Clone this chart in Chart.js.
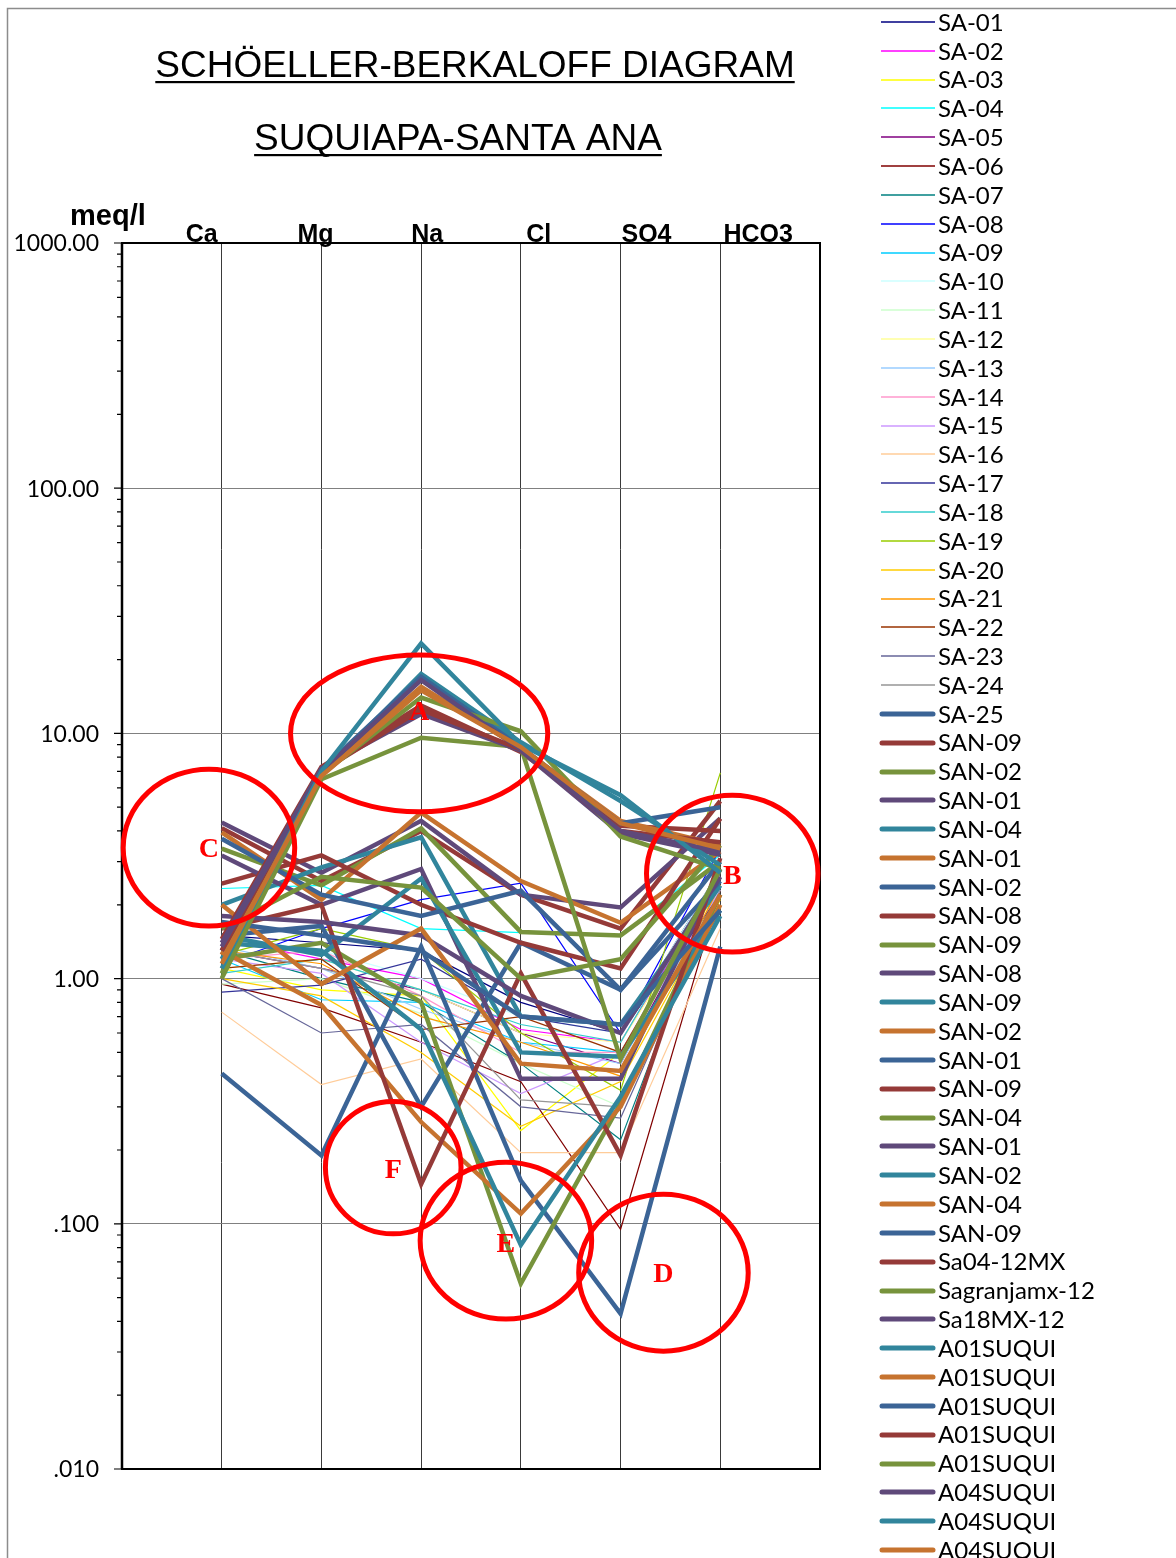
<!DOCTYPE html>
<html><head><meta charset="utf-8">
<script src="https://cdn.jsdelivr.net/npm/chart.js@4.4.1/dist/chart.umd.min.js"></script>
<style>html,body{margin:0;padding:0;background:#fff;overflow:hidden}canvas{display:block}</style>
</head><body>
<canvas id="c" width="1176" height="1558"></canvas>
<script>
// ---------------- DATA ----------------
const categories = ['Ca','Mg','Na','Cl','SO4','HCO3'];
const yTickValues = [0.01, 0.1, 1, 10, 100, 1000];
const yTickLabels = ['.010', '.100', '1.00', '10.00', '100.00', '1000.00'];
const titleLines = ['SCHÖELLER-BERKALOFF DIAGRAM', 'SUQUIAPA-SANTA ANA'];
const unitLabel = 'meq/l';

const seriesNames = [
  'SA-01','SA-02','SA-03','SA-04','SA-05','SA-06','SA-07','SA-08','SA-09','SA-10',
  'SA-11','SA-12','SA-13','SA-14','SA-15','SA-16','SA-17','SA-18','SA-19','SA-20',
  'SA-21','SA-22','SA-23','SA-24','SA-25',
  'SAN-09','SAN-02','SAN-01','SAN-04','SAN-01','SAN-02','SAN-08','SAN-09','SAN-08','SAN-09',
  'SAN-02','SAN-01','SAN-09','SAN-04','SAN-01','SAN-02','SAN-04','SAN-09',
  'Sa04-12MX','Sagranjamx-12','Sa18MX-12',
  'A01SUQUI','A01SUQUI','A01SUQUI','A01SUQUI','A01SUQUI',
  'A04SUQUI','A04SUQUI','A04SUQUI'
];

// values per series: [Ca, Mg, Na, Cl, SO4, HCO3] in meq/l
const seriesValues = [
  [1.5, 1.4, 1.3, 0.8, 0.6, 2.8],
  [1.45, 1.2, 1.0, 0.62, 0.55, 2.6],
  [1.1, 0.9, 0.85, 0.24, 0.5, 2.4],
  [2.33, 2.4, 1.6, 1.54, 1.5, 3.2],
  [1.3, 1.1, 0.9, 0.6, 0.45, 2.5],
  [0.95, 0.76, 0.55, 0.38, 0.095, 2.3],
  [1.3, 1.0, 0.8, 0.45, 0.22, 2.6],
  [1.15, 1.6, 2.1, 2.45, 0.6, 3.4],
  [1.2, 0.82, 0.8, 0.55, 0.5, 2.5],
  [1.4, 1.3, 1.0, 0.7, 0.6, 2.8],
  [0.95, 1.0, 0.72, 0.45, 0.3, 2.0],
  [1.1, 1.2, 0.9, 0.6, 0.55, 2.4],
  [1.35, 1.1, 0.75, 0.55, 0.45, 2.3],
  [1.2, 1.3, 0.85, 0.5, 0.5, 2.6],
  [1.2, 1.05, 0.55, 0.34, 0.5, 2.3],
  [0.73, 0.37, 0.47, 0.195, 0.195, 1.6],
  [0.88, 0.94, 1.2, 0.7, 0.6, 2.2],
  [1.05, 1.2, 0.9, 0.65, 0.55, 2.7],
  [1.25, 1.6, 1.3, 0.6, 0.35, 6.9],
  [1.0, 0.85, 0.5, 0.25, 0.38, 2.1],
  [1.3, 1.15, 0.7, 0.55, 0.4, 2.4],
  [1.1, 1.2, 0.62, 0.7, 0.5, 2.5],
  [1.0, 0.6, 0.65, 0.3, 0.27, 2.2],
  [1.3, 1.1, 0.85, 0.32, 0.3, 2.3],
  [0.41, 0.19, 1.35, 0.15, 0.043, 1.35],
  [4.1, 2.5, 4.0, 2.2, 1.6, 5.3],
  [3.39, 2.4, 4.1, 1.55, 1.5, 3.0],
  [4.33, 2.7, 4.4, 2.2, 1.95, 4.5],
  [2.0, 2.84, 3.77, 0.7, 0.65, 2.4],
  [3.95, 2.1, 4.75, 2.5, 1.69, 3.3],
  [1.5, 1.64, 0.3, 1.4, 0.9, 2.5],
  [2.44, 3.18, 2.0, 1.4, 1.1, 4.5],
  [1.2, 1.4, 0.8, 0.057, 0.31, 2.2],
  [3.18, 2.0, 2.8, 0.39, 0.39, 2.8],
  [1.5, 1.25, 2.56, 0.5, 0.48, 1.9],
  [1.3, 0.78, 0.26, 0.11, 0.30, 2.0],
  [3.72, 2.2, 1.8, 2.28, 0.9, 3.0],
  [1.6, 2.0, 0.145, 1.05, 0.19, 3.1],
  [1.6, 2.6, 2.35, 1.0, 1.2, 3.5],
  [1.8, 1.7, 1.5, 0.85, 0.6, 2.6],
  [1.4, 1.3, 0.62, 0.082, 0.33, 1.8],
  [2.0, 0.95, 1.6, 0.45, 0.42, 2.2],
  [1.7, 1.5, 1.3, 0.7, 0.65, 1.9],
  [1.45, 7.3, 13.0, 8.4, 4.2, 4.0],
  [1.0, 6.5, 9.6, 8.8, 0.47, 2.8],
  [1.4, 7.2, 12.0, 8.5, 3.9, 3.2],
  [1.2, 6.8, 17.5, 9.2, 5.3, 2.9],
  [1.25, 6.9, 15.5, 8.7, 4.4, 3.5],
  [1.3, 7.1, 17.0, 8.8, 4.3, 5.0],
  [1.3, 7.0, 12.5, 8.6, 4.0, 3.6],
  [1.05, 6.8, 14.0, 10.2, 3.8, 2.8],
  [1.35, 7.0, 16.5, 8.6, 4.0, 3.3],
  [1.1, 7.0, 23.3, 9.0, 5.6, 2.7],
  [1.15, 6.7, 15.0, 8.8, 4.3, 3.4]
];

// ---------------- STYLE ----------------
const thinPalette = ['#000080','#FF00FF','#FFFF00','#00FFFF','#800080','#800000','#008080','#0000FF',
  '#00CCFF','#CCFFFF','#CCFFCC','#FFFF99','#99CCFF','#FF99CC','#CC99FF','#FFCC99','#333399','#33CCCC',
  '#99CC00','#FFCC00','#FF9900','#993300','#666699','#969696'];
const thickPalette = ['#3B6496','#953A38','#77933C','#5F497A','#31859C','#C6732F'];
const THIN_COUNT = 24;

const datasets = seriesValues.map((vals, i) => {
  const thick = i >= THIN_COUNT;
  const color = thick ? thickPalette[(i - THIN_COUNT) % 6] : thinPalette[i];
  return {
    label: seriesNames[i],
    data: vals.map((v, k) => ({x: k + 1, y: v})),
    borderColor: color,
    backgroundColor: color,
    borderWidth: thick ? 4.5 : 1.2,
    pointRadius: 0,
    pointHoverRadius: 0,
    fill: false,
    tension: 0,
    order: seriesValues.length - i,
    _thick: thick
  };
});

// annotations (data coordinates: x in category units, y in meq/l, ry in decades)
const annotations = [
  {t:'A', x:2.98, y:10,     rx:1.29, ry:0.32, ty:12.2},
  {t:'B', x:6.12, y:2.68,   rx:0.86, ry:0.32, ty:2.62},
  {t:'C', x:0.872,y:3.42,   rx:0.86, ry:0.32, ty:3.38},
  {t:'D', x:5.43, y:0.0632, rx:0.85, ry:0.32, ty:0.0625},
  {t:'E', x:3.85, y:0.0854, rx:0.86, ry:0.32, ty:0.083},
  {t:'F', x:2.72, y:0.1695, rx:0.68, ry:0.27, ty:0.166}
];
const catLabelPos = [0.8, 1.94, 3.06, 4.18, 5.26, 6.38];

const decor = {
  id: 'decor',
  beforeDraw(chart) {
    const c = chart.ctx;
    c.save();
    c.fillStyle = '#fff';
    c.fillRect(0, 0, chart.width, chart.height);
    c.strokeStyle = '#8c8c8c';
    c.lineWidth = 1.5;
    c.beginPath();
    c.moveTo(7.5, chart.height);
    c.lineTo(7.5, 8.5);
    c.lineTo(chart.width, 8.5);
    c.stroke();
    c.restore();
  },
  afterDatasetsDraw(chart) {
    const c = chart.ctx;
    const xs = chart.scales.x, ys = chart.scales.y;
    const a = chart.chartArea;
    c.save();
    // frame
    c.strokeStyle = '#000';
    c.lineWidth = 2;
    c.strokeRect(a.left, a.top, a.right - a.left, a.bottom - a.top);
    c.lineWidth = 2.5;
    c.beginPath(); c.moveTo(a.left, a.top); c.lineTo(a.left, a.bottom); c.stroke();
    // y ticks (major + minor) outside left axis
    c.lineWidth = 1.2;
    c.beginPath();
    for (let d = -2; d <= 3; d++) {
      const base = Math.pow(10, d);
      const py = ys.getPixelForValue(base);
      c.moveTo(a.left - 8, py); c.lineTo(a.left, py);
      if (d < 3) {
        for (let m = 2; m <= 9; m++) {
          const p = ys.getPixelForValue(base * m);
          c.moveTo(a.left - 5, p); c.lineTo(a.left, p);
        }
      }
    }
    c.stroke();
    // y tick labels
    c.fillStyle = '#000';
    c.font = '23px Lato, "Open Sans", sans-serif';
    c.textAlign = 'right';
    c.textBaseline = 'middle';
    yTickValues.forEach((v, i) => {
      c.fillText(yTickLabels[i], 99, ys.getPixelForValue(v) + 1);
    });
    // unit label
    c.textAlign = 'left';
    c.textBaseline = 'alphabetic';
    c.font = 'bold 29px "Liberation Sans", Arial, sans-serif';
    c.fillText(unitLabel, 70, 225);
    // category labels
    c.font = 'bold 25px "Liberation Sans", Arial, sans-serif';
    c.textAlign = 'center';
    categories.forEach((t, i) => {
      c.fillText(t, xs.getPixelForValue(catLabelPos[i]), a.top - 1);
    });
    // titles
    c.font = '37px "Liberation Sans", Arial, sans-serif';
    const tl = [{t: titleLines[0], cx: 475, by: 77, uy: 82}, {t: titleLines[1], cx: 458, by: 150, uy: 155}];
    tl.forEach(o => {
      c.fillText(o.t, o.cx, o.by, 646);
      const w = Math.min(c.measureText(o.t).width, 646);
      c.fillRect(o.cx - w / 2, o.uy - 1, w, 2.2);
    });
    // annotations
    c.strokeStyle = '#FF0000';
    c.fillStyle = '#FF0000';
    c.lineWidth = 5;
    c.font = 'bold 28px "Liberation Serif", "Times New Roman", serif';
    c.textAlign = 'center';
    c.textBaseline = 'middle';
    annotations.forEach(an => {
      const px = xs.getPixelForValue(an.x);
      const py = ys.getPixelForValue(an.y);
      const rx = xs.getPixelForValue(an.x + an.rx) - px;
      const ry = py - ys.getPixelForValue(an.y * Math.pow(10, an.ry));
      c.beginPath();
      c.ellipse(px, py, rx, ry, 0, 0, Math.PI * 2);
      c.stroke();
      c.fillText(an.t, px, ys.getPixelForValue(an.ty) + 1);
    });
    // legend
    c.textAlign = 'left';
    c.textBaseline = 'middle';
    c.font = '24px Lato, "Open Sans", sans-serif';
    chart.data.datasets.forEach((ds, i) => {
      const y = 22 + i * 28.83;
      c.strokeStyle = ds.borderColor;
      c.lineWidth = ds._thick ? 5 : 1.6;
      c.lineCap = ds._thick ? 'round' : 'butt';
      c.beginPath();
      c.moveTo(ds._thick ? 882 : 881, Math.round(y));
      c.lineTo(ds._thick ? 933 : 935, Math.round(y));
      c.stroke();
      c.fillStyle = '#000';
      c.fillText(ds.label, 938, y + 1);
    });
    c.restore();
  }
};

new Chart(document.getElementById('c'), {
  type: 'line',
  data: { datasets },
  options: {
    responsive: false,
    animation: false,
    devicePixelRatio: 1,
    events: [],
    layout: { padding: { left: 122, top: 243, right: 356, bottom: 89 } },
    plugins: { legend: { display: false }, tooltip: { enabled: false }, title: { display: false } },
    scales: {
      x: {
        type: 'linear', min: 0, max: 7,
        afterBuildTicks: s => { s.ticks = [0,1,2,3,4,5,6,7].map(v => ({value: v})); },
        ticks: { display: false },
        border: { display: false },
        grid: {
          drawTicks: false,
          lineWidth: 1,
          color: ctx => (ctx.tick && (ctx.tick.value === 0 || ctx.tick.value === 7)) ? 'rgba(0,0,0,0)' : '#3a3a3a'
        }
      },
      y: {
        type: 'logarithmic', min: 0.01, max: 1000,
        afterBuildTicks: s => { s.ticks = yTickValues.map(v => ({value: v})); },
        ticks: { display: false },
        border: { display: false },
        grid: { drawTicks: false, lineWidth: 1, color: '#808080' }
      }
    }
  },
  plugins: [decor]
});
</script>
</body></html>
